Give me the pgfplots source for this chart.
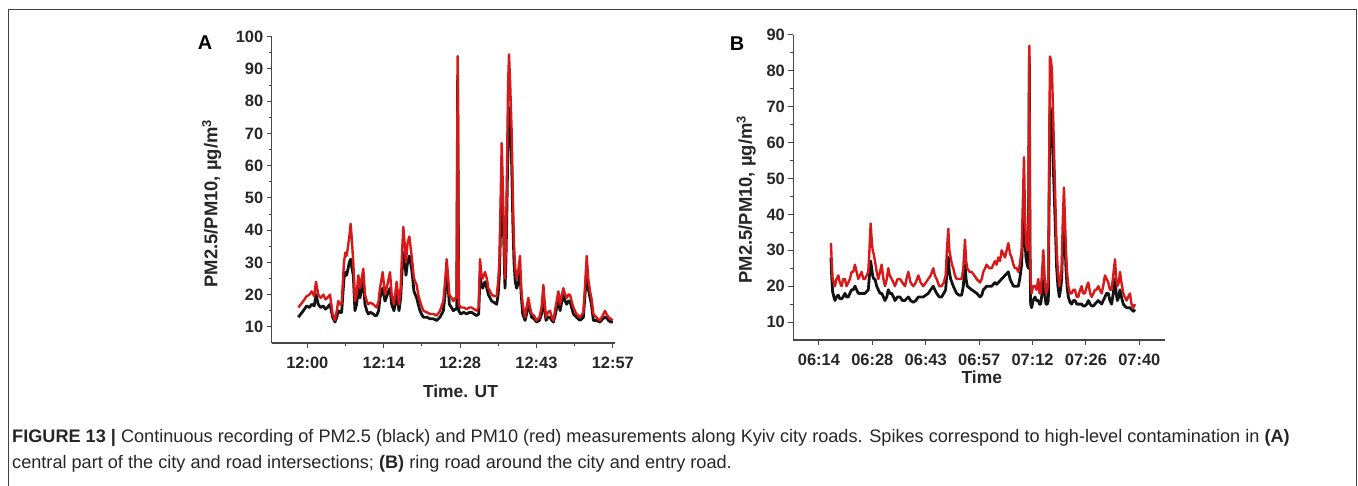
\documentclass[border=0pt]{standalone}
\usepackage{fontspec}
\setmainfont{Liberation Sans}
\usepackage{pgfplots}
\usepackage{pgfplotstable}
\pgfplotsset{compat=1.18}
\definecolor{pmred}{RGB}{215,25,25}
\definecolor{pmblack}{RGB}{20,20,20}
\definecolor{axgray}{RGB}{70,70,70}

% panel A: t = minutes after 12:00
\pgfplotstableread{
t pmtwo pmten
-1.68 13 16
-1.2 14 17
-0.75 15 18
-0.12 16.5 19.5
0.4 16 20
0.81 17 21
1.3 16.5 19.5
1.62 20 24
2.05 17 20
2.5 16 19
2.99 16.5 20
3.4 15.5 18.5
3.73 16 19
4.23 17 20
4.73 13 14
5.16 11.5 12
5.5 13 15
5.78 15 18
6.1 14.5 17
6.41 14.5 17
6.84 25 30
7.1 27 33
7.34 26 32
7.6 28 35
7.84 30 38
8.09 31 42
8.35 28 36
8.58 26 30
8.89 15 18
9.2 17 20
9.52 22 26
9.83 19 22
10.14 22 25
10.45 24 28
10.76 17 20
11.1 15 18
11.38 14 17
11.8 14.5 17.5
12.32 14 17
12.6 13.5 16.5
12.94 13.5 16
13.3 15 18
13.56 19 22
14.06 22 27
14.49 18 20
14.93 20 23
15.43 22 27
15.74 17 20
16.17 15 17
16.67 20 24
17.11 15 17
17.42 19 22
17.7 28 34
17.91 33 41
18.2 30 35
18.41 26 30
18.7 30 36
19.03 32 38
19.47 28 32
19.9 21 25
20.4 19 23
20.7 17 20
21.02 15 18
21.3 14 16.5
21.65 13 15
22.3 13 14.5
22.89 12.5 14
23.5 12.5 14
24.13 12 13.5
24.76 13 15
25.38 15 18
25.7 20 24
26.0 27 31
26.25 23 26
26.5 17 20
26.9 16 19
27.24 15 18
27.6 15.5 19
27.87 15.5 19
28.05 88 94
28.25 15 17
28.61 14 16
29.2 14.5 16
29.73 14 15.5
30.2 14.5 16
30.66 14.5 16
31.1 14 15.5
31.6 13.5 15
31.97 14 16
32.22 26 31
32.5 23 26
32.72 22 25
33.15 24 27
33.5 22 25
33.77 20 22
34.1 19 21
34.4 18 20
34.9 17.5 19.5
35.33 17 19.5
35.6 20 24
35.83 26 30
36.05 40 48
36.26 53 67
36.45 45 55
36.6 40 45
36.88 22 25
37.05 30 36
37.25 48 58
37.45 70 85
37.63 78 94.5
37.85 72 85
38.13 60 70
38.35 42 50
38.56 30 35
38.8 24 28
39.06 22 25
39.4 24 28
39.68 27 32
39.9 20 22
40.18 14 17
40.62 12 13
40.9 14 16
41.24 17 19
41.55 15 16
41.86 13 14
42.3 12.5 13.5
42.79 11.5 12
43.3 12 13
43.7 14 16
44.04 20 23
44.3 15 17
44.54 12 13
44.9 13 14.5
45.28 13 15
45.6 12 13
45.9 11.5 12
46.3 14 16
46.84 19 21
47.15 15 17
47.5 18 20
47.77 20 22
48.1 18 20
48.39 17 19
48.7 18 20
49.01 18 20
49.3 16 18
49.64 14 16
50.2 13 14
50.88 12 13
51.5 13 14.5
51.9 22 25
52.12 29 32
52.4 22 25
52.75 19 21
53.0 17 19
53.37 12 14
53.9 12 13
54.61 11.5 12
55.1 12.5 13.5
55.54 13 15
55.8 13 14
56.17 12 13
56.6 11.5 12.5
56.98 11.5 12
}\dataA

% panel B: t = minutes after 06:00
\pgfplotstableread{
t pmtwo pmten
17.22 28 32
17.45 22 26
17.67 18.5 22
18.0 17 21
18.30 16 20
18.7 17 22
19.19 17.5 23
19.6 16.5 21
20.09 16.5 20
20.5 17 22
20.98 18 22
21.4 17 20
21.88 17 21
22.3 18 22
22.77 19 24
23.2 19 24
23.66 20 26
24.1 19 24
24.56 18 22
25.0 18 23
25.45 18 24
25.9 18 22
26.35 18 22
26.8 18.5 23
27.24 19 24
27.55 23 30
27.87 27 37.5
28.15 25 33
28.41 23 30
28.7 22 29
29.03 22 27
29.5 20 24
29.93 19 22
30.4 18 24
30.82 18 26
31.3 17 22
31.72 16 20
32.2 17 22
32.61 19 25
33.0 18 23
33.51 18 22
34.0 17 21
34.40 16 20
35.1 17 22
35.75 17 22
36.4 16 21
37.09 16 20
37.5 16.5 22
37.98 17 24
38.6 16 21
39.33 15.5 20
40.0 16 21
40.67 17 23
41.3 17 21
42.01 17 20
42.7 17.5 21
43.35 18 22
44.0 19 23
44.69 20 25
45.1 19 23
45.59 18 22
46.3 17 20
46.93 17 20
47.5 18 21
48.01 19 23
48.35 24 30
48.72 28 36
49.0 24 30
49.35 22 28
49.7 21 26
50.06 20 25
50.5 19 23
50.96 18 22
51.6 17.5 22
52.30 17.5 22
52.75 20 25
53.20 26 33
53.5 22 27
53.82 20 25
54.4 19.5 24
54.99 19 24
55.7 18.5 23
56.33 18 22
56.8 17.5 21.5
57.22 17 21
57.7 17.5 22
58.12 19 24
58.6 19.5 25
59.01 20 26
59.7 20 25
60.36 20 25
60.8 20.5 26
61.25 21 27
61.7 20.5 26
62.15 21 28
62.6 21.5 27
63.04 22 30
63.5 22.5 29
63.94 23 28
64.4 23.5 30
64.83 24 32
65.3 22 29
65.73 21 28
66.2 20 26
66.62 20 25
67.1 20 25
67.52 20 24
67.9 22 26
68.41 26 30
68.7 35 42
69.04 45 56
69.3 33 40
69.57 28 32
69.9 26 30
70.20 25 30
70.47 84 87
70.65 30 32
70.83 15 22
71.09 14 18
71.5 16 20
71.99 17 20
72.4 16 19
72.88 16 22
73.2 15 18
73.51 15 18
73.9 18 24
74.23 22 30
74.6 18 22
74.94 15 18
75.3 15 19
75.57 16 22
75.8 45 55
76.01 70 84
76.28 68 83
76.55 65 80
76.85 55 68
77.18 45 55
77.5 35 42
77.81 25 30
78.15 20 24
78.52 17 20
78.85 19 22
79.15 22 25
79.45 32 38
79.77 38 47.5
80.05 32 38
80.31 25 30
80.6 20 24
80.94 17 20
81.4 15.5 18
81.83 15 18
82.3 16 19
82.73 16 19
83.2 15 17
83.62 15 17
84.1 15 19
84.52 15 20
84.9 14.5 18
85.41 14.5 18
85.9 15 20
86.31 16 21
86.8 15 18
87.20 14.5 17
87.7 14.5 18
88.10 15 19
88.5 15.5 19
88.99 16 20
89.4 15.5 19
89.89 15 18
90.3 16 20
90.78 17 23
91.2 18 22
91.68 18 21
92.1 16 19
92.57 15 19
93.0 18 23
93.47 22 27.5
93.8 18 22
94.09 16 20
94.5 17 21
94.81 19 24
95.2 17 21
95.70 15 18
96.1 14.5 17
96.60 14 16
97.0 14 17
97.49 14 18
97.9 13.5 15
98.39 13 14
98.84 13.5 15
}\dataB

\pgfplotsset{
  pmaxis/.style={
    scale only axis,
    anchor=south west,
    axis lines*=left,
    axis line style={axgray, line width=1.1bp},
    tick style={axgray, line width=1bp},
    tick align=outside,
    major tick length=5bp,
    minor tick length=3bp,
    minor x tick num=1,
    minor y tick num=1,
    /pgf/number format/assume math mode=true,
    tick label style={font=\bfseries\fontsize{16.5}{16.5}\selectfont, text=black!85},
    xticklabel style={yshift=-6bp},
    label style={font=\bfseries\fontsize{17.5}{17.5}\selectfont, text=black!85},
    ylabel style={font=\bfseries\fontsize{18.5}{18.5}\selectfont},
    clip=false,
  },
  pmtwo/.style={pmblack, line width=2.8bp, line join=round},
  pmten/.style={pmred, line width=2.4bp, line join=round},
}

\begin{document}
\begin{tikzpicture}
\useasboundingbox (0,0) rectangle (1358bp,486bp);
% frame round the figure
\draw[black!75, line width=1bp] (8bp,0) -- (8bp,476bp) -- (1356bp,476bp) -- (1356bp,0);

\begin{axis}[pmaxis,
  at={(271.7bp,143bp)}, width=343.3bp, height=306.3bp,
  xmin=-6.64, xmax=57.4, ymin=5, ymax=100,
  xtick={0,14.25,28.5,42.75,57},
  xticklabels={12:00,12:14,12:28,12:43,12:57},
  ytick={10,20,...,100},
  xlabel={Time. UT},
  ylabel={PM2.5/PM10, µg/m\textsuperscript{3}},
  xlabel style={at={(axis description cs:0.55,-0.157)}, anchor=center},
  ylabel style={at={(axis description cs:-0.175,0.455)}, anchor=center},
]
\addplot[pmtwo] table[x=t, y=pmtwo] {\dataA};
\addplot[pmten] table[x=t, y=pmten] {\dataA};
\end{axis}

\begin{axis}[pmaxis,
  at={(793.3bp,146bp)}, width=371.7bp, height=305bp,
  xmin=7.11, xmax=106.9, ymin=5, ymax=90,
  xtick={14,28.333,42.667,57,71.333,85.667,100},
  xticklabels={06:14,06:28,06:43,06:57,07:12,07:26,07:40},
  ytick={10,20,...,90},
  xlabel={Time},
  ylabel={PM2.5/PM10, µg/m\textsuperscript{3}},
  xlabel style={at={(axis description cs:0.507,-0.121)}, anchor=center},
  ylabel style={at={(axis description cs:-0.127,0.46)}, anchor=center},
]
\addplot[pmtwo] table[x=t, y=pmtwo] {\dataB};
\addplot[pmten] table[x=t, y=pmten] {\dataB};
\end{axis}

\node[font=\bfseries\fontsize{20}{20}\selectfont] at (205bp,443bp) {A};
\node[font=\bfseries\fontsize{20}{20}\selectfont] at (737bp,442bp) {B};

% caption
\node[anchor=base west, inner sep=0, text=black!85, font=\fontsize{18.2}{18.2}\selectfont] at (12bp,43bp)
  {\textbf{FIGURE 13 |} Continuous recording of PM2.5 (black) and PM10 (red) measurements along Kyiv city roads. Spikes correspond to high-level contamination in \textbf{(A)}};
\node[anchor=base west, inner sep=0, text=black!85, font=\fontsize{18.2}{18.2}\selectfont] at (12bp,18bp)
  {central part of the city and road intersections; \textbf{(B)} ring road around the city and entry road.};
\end{tikzpicture}
\end{document}
